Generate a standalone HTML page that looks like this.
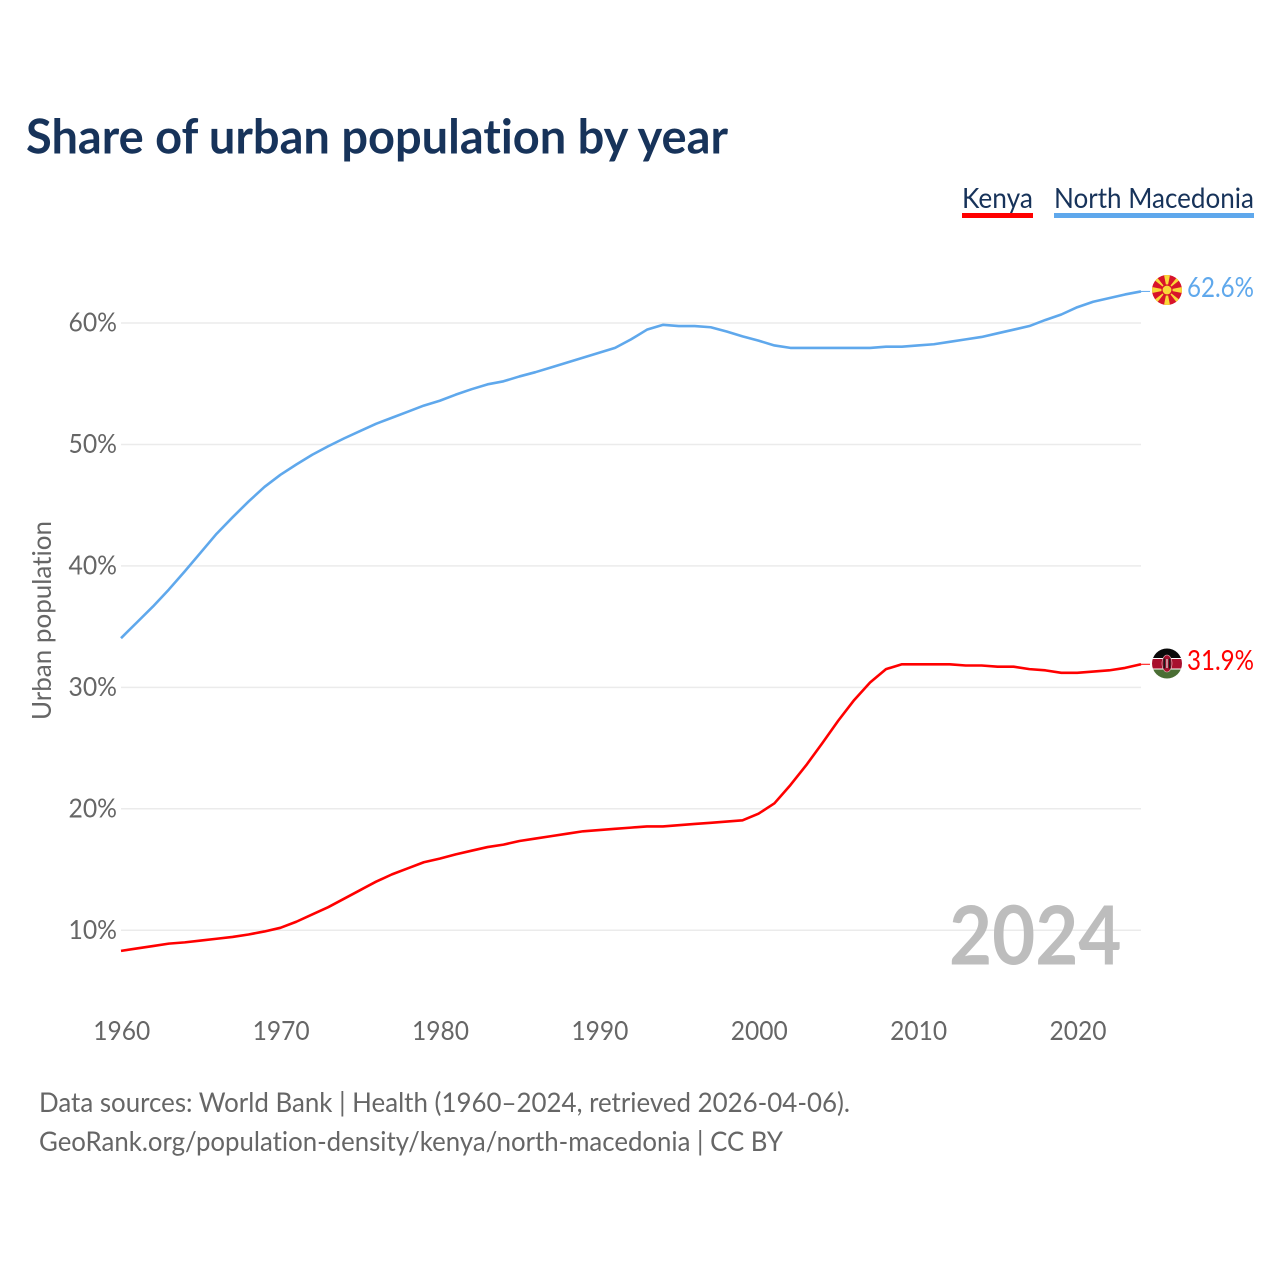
<!DOCTYPE html>
<html lang="en">
<head>
<meta charset="utf-8">
<title>Share of urban population by year</title>
<style>
html,body{margin:0;padding:0;background:#fff;width:1280px;height:1280px;overflow:hidden}
svg{display:block}
text{font-family:"Lato","Carlito","Liberation Sans",sans-serif;font-variant-ligatures:none;font-feature-settings:"liga" 0,"clig" 0}
</style>
</head>
<body>
<svg id="chart" xmlns="http://www.w3.org/2000/svg" width="1280" height="1280" viewBox="0 0 1280 1280">
  <rect x="0" y="0" width="1280" height="1280" fill="#ffffff"/>
  <text x="26" y="153.5" font-size="47.5" font-weight="700" fill="#17335a" textLength="702" lengthAdjust="spacingAndGlyphs">Share of urban population by year</text>

  <g>
    <text x="962" y="208" font-size="28" fill="#17335a" textLength="71" lengthAdjust="spacingAndGlyphs">Kenya</text>
    <rect x="962" y="213" width="71" height="5" fill="#ff0000"/>
  </g>
  <g>
    <text x="1054" y="208" font-size="28" fill="#17335a" textLength="200" lengthAdjust="spacingAndGlyphs">North Macedonia</text>
    <rect x="1054" y="213" width="200" height="5" fill="#5fa8ec"/>
  </g>

  <g id="grid"></g>
  <g id="yticks"></g>
  <g id="xticks"></g>

  <text transform="translate(51,720) rotate(-90)" font-size="26.5" fill="#666666" textLength="199" lengthAdjust="spacingAndGlyphs">Urban population</text>

  <text x="949" y="964.5" font-size="81" font-weight="700" fill="#bdbdbd" textLength="172.5" lengthAdjust="spacingAndGlyphs">2024</text>

  <g id="series"></g>

  <defs>
    <clipPath id="clip-mk"><circle cx="1167" cy="290" r="15"/></clipPath>
    <clipPath id="clip-ke"><circle cx="1167" cy="663.5" r="15"/></clipPath>
  </defs>

  <g clip-path="url(#clip-mk)">
    <rect x="1152" y="275" width="30" height="30" fill="#d8142a"/>
    <g fill="#f9d838">
      <polygon points="1167,290 1152,287 1152,293"/>
      <polygon points="1167,290 1182,287 1182,293"/>
      <polygon points="1167,290 1164,275 1170,275"/>
      <polygon points="1167,290 1164,305 1170,305"/>
      <polygon points="1167,290 1153,279 1156,276"/>
      <polygon points="1167,290 1181,279 1178,276"/>
      <polygon points="1167,290 1153,301 1156,304"/>
      <polygon points="1167,290 1181,301 1178,304"/>
    </g>
    <circle cx="1167" cy="290" r="5.6" fill="#d8142a"/>
    <circle cx="1167" cy="290" r="4.4" fill="#f9d838"/>
  </g>

  <g clip-path="url(#clip-ke)">
    <rect x="1152" y="648" width="30" height="10" fill="#0a0a0a"/>
    <rect x="1152" y="658" width="30" height="1" fill="#ffffff"/>
    <rect x="1152" y="659" width="30" height="9.5" fill="#a8102e"/>
    <rect x="1152" y="668.5" width="30" height="1" fill="#ffffff"/>
    <rect x="1152" y="669.5" width="30" height="10" fill="#4a6e34"/>
    <ellipse cx="1167" cy="663.5" rx="5" ry="8.5" fill="#a8102e" stroke="#e8c8cc" stroke-width="0.6"/>
    <rect x="1163.4" y="658.5" width="1.8" height="10" fill="#1a1a1a"/>
    <rect x="1168.8" y="658.5" width="1.8" height="10" fill="#1a1a1a"/>
    <rect x="1166.4" y="659" width="1.2" height="9" fill="#e8e0e0"/>
  </g>

  <text id="label-mk" x="1187" y="297" font-size="28" fill="#5fa8ec" textLength="67" lengthAdjust="spacingAndGlyphs"></text>
  <text id="label-ke" x="1187" y="670" font-size="28" fill="#ff0000" textLength="67" lengthAdjust="spacingAndGlyphs"></text>

  <text x="39" y="1112" font-size="27.5" fill="#666666" textLength="811" lengthAdjust="spacingAndGlyphs">Data sources: World Bank | Health (1960–2024, retrieved 2026-04-06).</text>
  <text x="39" y="1151" font-size="27.5" fill="#666666" textLength="744" lengthAdjust="spacingAndGlyphs">GeoRank.org/population-density/kenya/north-macedonia | CC BY</text>
</svg>
<script>
const startYear = 1960;
const endYear = 2024;
const yTickValues = [10, 20, 30, 40, 50, 60];
const xTickValues = [1960, 1970, 1980, 1990, 2000, 2010, 2020];
const kenyaValues = [
  8.3, 8.5, 8.7, 8.9, 9.0, 9.15, 9.3, 9.45, 9.65, 9.9,
  10.2, 10.7, 11.3, 11.9, 12.6, 13.3, 14.0, 14.6, 15.1, 15.6,
  15.9, 16.25, 16.55, 16.85, 17.05, 17.35, 17.55, 17.75, 17.95, 18.15,
  18.25, 18.35, 18.45, 18.55, 18.55, 18.65, 18.75, 18.85, 18.95, 19.05,
  19.6, 20.45, 21.95, 23.6, 25.4, 27.25, 28.95, 30.4, 31.5, 31.9,
  31.9, 31.9, 31.9, 31.8, 31.8, 31.7, 31.7, 31.5, 31.4, 31.2,
  31.2, 31.3, 31.4, 31.6, 31.9
];
const macedoniaValues = [
  34.05, 35.35, 36.65, 38.05, 39.55, 41.1, 42.65, 44.0, 45.3, 46.5,
  47.5, 48.35, 49.15, 49.85, 50.5, 51.1, 51.7, 52.2, 52.7, 53.2,
  53.6, 54.1, 54.55, 54.95, 55.2, 55.6, 55.95, 56.35, 56.75, 57.15,
  57.55, 57.95, 58.65, 59.45, 59.85, 59.75, 59.75, 59.65, 59.3, 58.9,
  58.55, 58.15, 57.95, 57.95, 57.95, 57.95, 57.95, 57.95, 58.05, 58.05,
  58.15, 58.25, 58.45, 58.65, 58.85, 59.15, 59.45, 59.75, 60.25, 60.7,
  61.3, 61.75, 62.05, 62.35, 62.6
];

const NS = 'http://www.w3.org/2000/svg';
function xScale(year) { return 121 + (year - startYear) * (1020 / (endYear - startYear)); }
function yScale(v) { return 323 + (60 - v) * 12.145; }

const gridGroup = document.getElementById('grid');
const yGroup = document.getElementById('yticks');
const xGroup = document.getElementById('xticks');
const seriesGroup = document.getElementById('series');

yTickValues.forEach(function (v) {
  const line = document.createElementNS(NS, 'line');
  
  
  line.setAttribute('x1', xScale(startYear));
  line.setAttribute('x2', xScale(endYear));
  line.setAttribute('y1', yScale(v));
  line.setAttribute('y2', yScale(v));
  line.setAttribute('stroke', '#ebebeb');
  line.setAttribute('stroke-width', '1.5');
  gridGroup.appendChild(line);

  const label = document.createElementNS(NS, 'text');
  
  
  label.setAttribute('x', 117);
  label.setAttribute('y', yScale(v) + 8.5);
  label.setAttribute('text-anchor', 'end');
  label.setAttribute('font-size', '26.5');
  label.setAttribute('fill', '#666666');
  label.setAttribute('textLength', '48.5');
  label.setAttribute('lengthAdjust', 'spacingAndGlyphs');
  label.textContent = v + '%';
  yGroup.appendChild(label);
});

xTickValues.forEach(function (year) {
  const label = document.createElementNS(NS, 'text');
  
  
  label.setAttribute('x', xScale(year) + 0.8);
  label.setAttribute('y', 1040);
  label.setAttribute('text-anchor', 'middle');
  label.setAttribute('font-size', '26.5');
  label.setAttribute('fill', '#666666');
  label.setAttribute('textLength', '57');
  label.setAttribute('lengthAdjust', 'spacingAndGlyphs');
  label.textContent = String(year);
  xGroup.appendChild(label);
});

function pointsFor(values) {
  return values.map(function (v, i) {
    return xScale(startYear + i).toFixed(2) + ',' + yScale(v).toFixed(2);
  }).join(' ');
}

const kenyaLine = document.createElementNS(NS, 'polyline');


kenyaLine.setAttribute('points', pointsFor(kenyaValues));
kenyaLine.setAttribute('fill', 'none');
kenyaLine.setAttribute('stroke', '#ff0000');
kenyaLine.setAttribute('stroke-width', '2.6');
kenyaLine.setAttribute('stroke-linejoin', 'round');
seriesGroup.appendChild(kenyaLine);

const macedoniaLine = document.createElementNS(NS, 'polyline');


macedoniaLine.setAttribute('points', pointsFor(macedoniaValues));
macedoniaLine.setAttribute('fill', 'none');
macedoniaLine.setAttribute('stroke', '#5fa8ec');
macedoniaLine.setAttribute('stroke-width', '2.6');
macedoniaLine.setAttribute('stroke-linejoin', 'round');
seriesGroup.appendChild(macedoniaLine);

const kenyaLast = kenyaValues[kenyaValues.length - 1];
const macedoniaLast = macedoniaValues[macedoniaValues.length - 1];

const kenyaConnector = document.createElementNS(NS, 'line');


kenyaConnector.setAttribute('x1', xScale(endYear));
kenyaConnector.setAttribute('x2', 1150);
kenyaConnector.setAttribute('y1', yScale(kenyaLast));
kenyaConnector.setAttribute('y2', yScale(kenyaLast));
kenyaConnector.setAttribute('stroke', '#ff0000');
kenyaConnector.setAttribute('stroke-width', '1');
seriesGroup.appendChild(kenyaConnector);

const macedoniaConnector = document.createElementNS(NS, 'line');


macedoniaConnector.setAttribute('x1', xScale(endYear));
macedoniaConnector.setAttribute('x2', 1150);
macedoniaConnector.setAttribute('y1', yScale(macedoniaLast));
macedoniaConnector.setAttribute('y2', yScale(macedoniaLast));
macedoniaConnector.setAttribute('stroke', '#5fa8ec');
macedoniaConnector.setAttribute('stroke-width', '1');
seriesGroup.appendChild(macedoniaConnector);

document.getElementById('label-ke').textContent = kenyaLast.toFixed(1) + '%';
document.getElementById('label-mk').textContent = macedoniaLast.toFixed(1) + '%';
</script>
</body>
</html>
